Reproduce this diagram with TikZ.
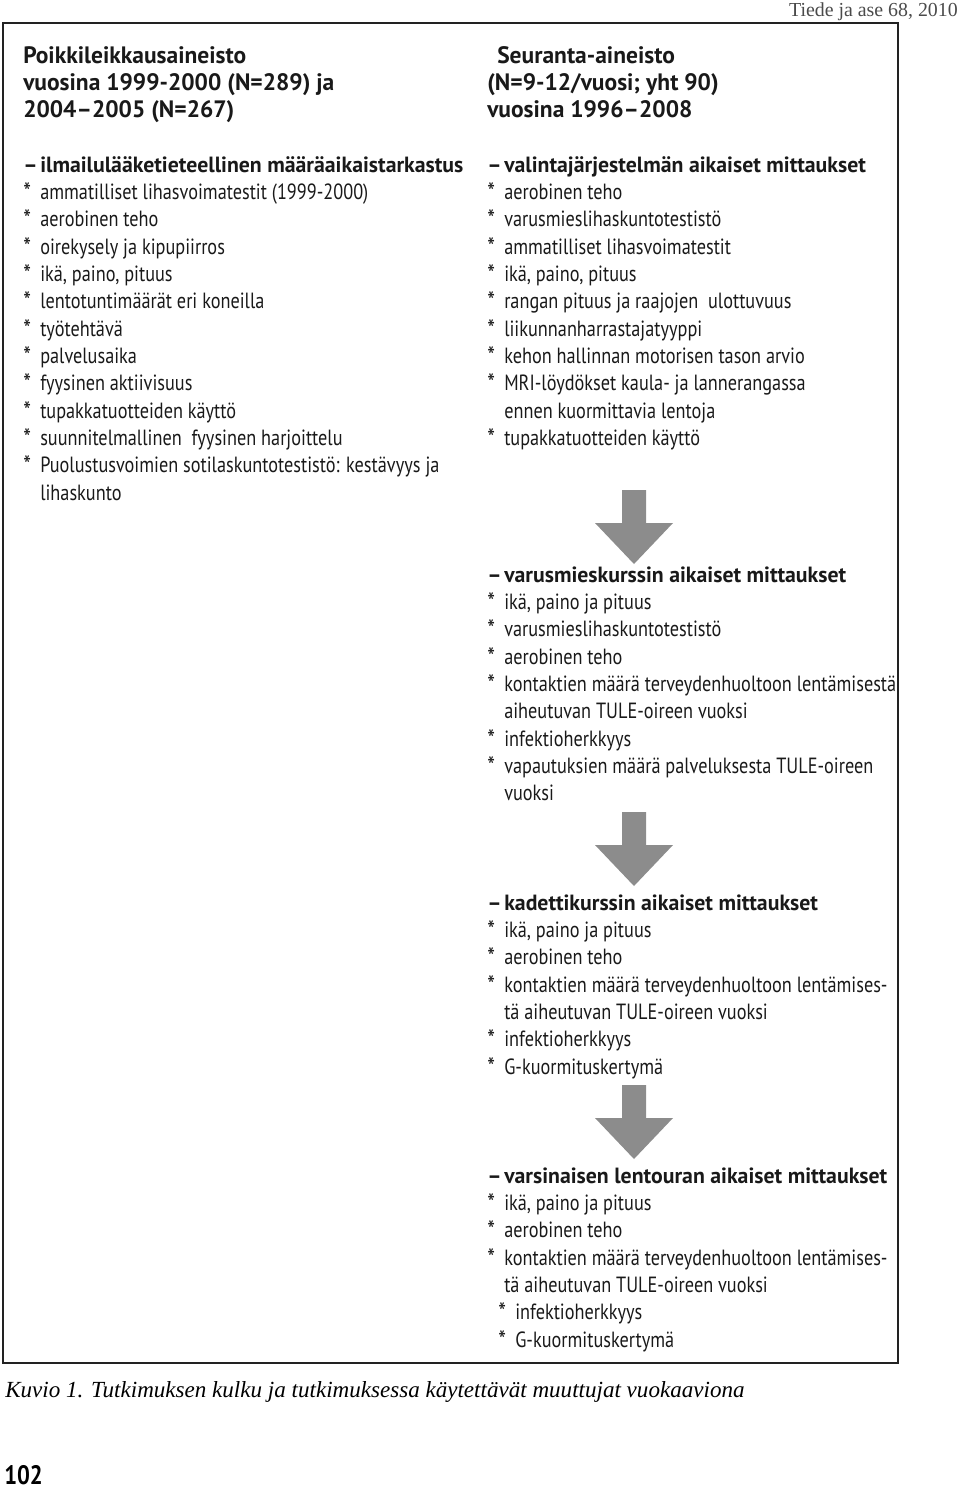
\documentclass[tikz,border=0pt]{standalone}
\usepackage{fontspec}
\setmainfont{PT Sans}[FakeStretch=0.83, BoldFeatures={FakeStretch=0.99}]
\newfontfamily\capfont{Liberation Serif}
\newfontfamily\numfont{PT Sans}[FakeStretch=0.85]
\usetikzlibrary{calc}
\definecolor{arrowgray}{HTML}{8C8C8C}
\definecolor{framecol}{HTML}{222222}
\definecolor{headgray}{HTML}{4A4A4A}
\newlength\hng \setlength\hng{12.75pt}
\newcommand\bstar{\raisebox{-1.5pt}{\scalebox{1.2}{*}}}
\newcommand\hd[1]{\par\noindent\makebox[\hng][l]{\textbf{–}}\textbf{#1}}
\newcommand\itm[1]{\par\hangindent=\hng\hangafter=1\noindent\makebox[\hng][l]{\bstar}#1}
\newcommand\itmb[1]{\par\hangindent=\hng\hangafter=1\noindent\hspace{8.25pt}\makebox[\hng][l]{\bstar}#1}
\newcommand\blk[1]{\begin{minipage}[t]{400pt}\raggedright\fontsize{16.5pt}{20.5pt}\selectfont #1\end{minipage}}
\newcommand\ttl[1]{\begin{minipage}[t]{400pt}\raggedright\fontsize{17.8pt}{20.6pt}\selectfont\bfseries #1\end{minipage}}
\tikzset{
  blocktext/.style={anchor=base west, inner sep=0pt, text=black!90},
  bigarrow/.style={fill=arrowgray, draw=none}
}
\newcommand\downarrowshape[1]{% #1 = top y
  \fill[bigarrow] (622,#1) -- (646,#1) -- (646,#1+33) -- (673,#1+33) -- (634,#1+74) -- (595,#1+33) -- (622,#1+33) -- cycle;
}
\begin{document}
\begin{tikzpicture}[x=0.75pt,y=-0.75pt]
\useasboundingbox (0,0) rectangle (960,1490);
% header
\node[anchor=base east, inner sep=0pt, text=headgray, font=\capfont\fontsize{14.9pt}{16pt}\selectfont] (hdr) at (958,16) {Tiede ja ase 68, 2010};
% frame
\draw[line width=1.5pt, draw=framecol] (3,23) rectangle (898,1363);
% titles
\node[blocktext] (t1) at (23,63) {\ttl{Poikkileikkausaineisto\\vuosina 1999-2000 (N=289) ja\\2004–2005 (N=267)}};
\node[blocktext] (t2) at (487,63) {\ttl{\hspace*{7.5pt}Seuranta-aineisto\\(N=9-12/vuosi; yht 90)\\vuosina 1996–2008}};
% left block
\node[blocktext] (L) at (23,172) {\blk{%
\hd{ilmailulääketieteellinen määräaikaistarkastus}
\itm{ammatilliset lihasvoimatestit (1999-2000)}
\itm{aerobinen teho}
\itm{oirekysely ja kipupiirros}
\itm{ikä, paino, pituus}
\itm{lentotuntimäärät eri koneilla}
\itm{työtehtävä}
\itm{palvelusaika}
\itm{fyysinen aktiivisuus}
\itm{tupakkatuotteiden käyttö}
\itm{suunnitelmallinen\ \ fyysinen harjoittelu}
\itm{Puolustusvoimien sotilaskuntotestistö: kestävyys ja\newline lihaskunto}}};
% right blocks
\node[blocktext] (R1) at (487,172) {\blk{%
\hd{valintajärjestelmän aikaiset mittaukset}
\itm{aerobinen teho}
\itm{varusmieslihaskuntotestistö}
\itm{ammatilliset lihasvoimatestit}
\itm{ikä, paino, pituus}
\itm{rangan pituus ja raajojen\ \ ulottuvuus}
\itm{liikunnanharrastajatyyppi}
\itm{kehon hallinnan motorisen tason arvio}
\itm{MRI-löydökset kaula- ja lannerangassa\newline ennen kuormittavia lentoja}
\itm{tupakkatuotteiden käyttö}}};
\node[blocktext] (R2) at (487,582) {\blk{%
\hd{varusmieskurssin aikaiset mittaukset}
\itm{ikä, paino ja pituus}
\itm{varusmieslihaskuntotestistö}
\itm{aerobinen teho}
\itm{kontaktien määrä terveydenhuoltoon lentämisestä\newline aiheutuvan TULE-oireen vuoksi}
\itm{infektioherkkyys}
\itm{vapautuksien määrä palveluksesta TULE-oireen\newline vuoksi}}};
\node[blocktext] (R3) at (487,910) {\blk{%
\hd{kadettikurssin aikaiset mittaukset}
\itm{ikä, paino ja pituus}
\itm{aerobinen teho}
\itm{kontaktien määrä terveydenhuoltoon lentämises-\newline tä aiheutuvan TULE-oireen vuoksi}
\itm{infektioherkkyys}
\itm{G-kuormituskertymä}}};
\node[blocktext] (R4) at (487,1183) {\blk{%
\hd{varsinaisen lentouran aikaiset mittaukset}
\itm{ikä, paino ja pituus}
\itm{aerobinen teho}
\itm{kontaktien määrä terveydenhuoltoon lentämises-\newline tä aiheutuvan TULE-oireen vuoksi}
\itmb{infektioherkkyys}
\itmb{G-kuormituskertymä}}};
% arrows
\downarrowshape{490}
\downarrowshape{812}
\downarrowshape{1085}
% caption
\node[anchor=base west, inner sep=0pt, font=\capfont\itshape\fontsize{17.3pt}{18pt}\selectfont] (cap) at (5,1397) {Kuvio 1. Tutkimuksen kulku ja tutkimuksessa käytettävät muuttujat vuokaaviona};
\node[anchor=base west, inner sep=0pt, font=\numfont\bfseries\fontsize{20pt}{22pt}\selectfont] (pg) at (4,1484) {102};
\end{tikzpicture}
\end{document}
